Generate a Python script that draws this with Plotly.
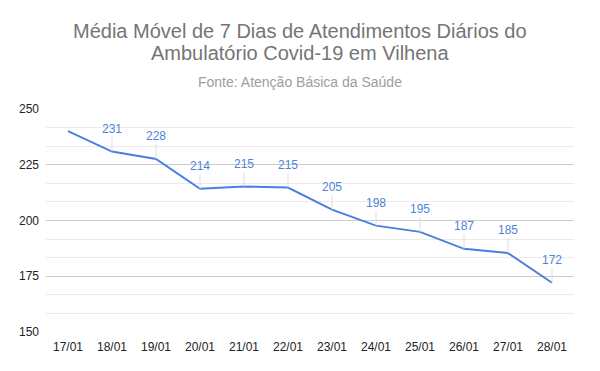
import plotly.graph_objects as go

dates = ["17/01", "18/01", "19/01", "20/01", "21/01", "22/01",
         "23/01", "24/01", "25/01", "26/01", "27/01", "28/01"]
media_movel = [240.1, 230.9, 227.6, 214.2, 215.2, 214.8,
               204.9, 197.7, 194.9, 187.3, 185.4, 172.1]
label_shown = [False] + [True] * 11

title_lines = ["Média Móvel de 7 Dias de Atendimentos Diários do",
               "Ambulatório Covid-19 em Vilhena"]
subtitle = "Fonte: Atenção Básica da Saúde"

line_color = "#4a7fdd"
label_color = "#4f82d9"
FONT = "Arial, 'Liberation Sans', sans-serif"

fig = go.Figure()
fig.add_trace(go.Scatter(
    x=dates, y=media_movel, mode="lines",
    line=dict(color=line_color, width=2),
    hoverinfo="x+y", showlegend=False,
))

annotations = []
for d, v, show in zip(dates, media_movel, label_shown):
    if not show:
        continue
    annotations.append(dict(
        x=d, y=v, xref="x", yref="y",
        text=f"{v:.0f}", showarrow=True, arrowhead=0, arrowwidth=1,
        arrowcolor="#dddddd", ax=0, ay=-23, standoff=0,
        font=dict(family=FONT, size=12, color=label_color),
    ))

def paper_y(ref_px):
    # plot area spans reference pixels 109 (top) .. 332 (bottom)
    return (332 - ref_px) / 223

center_x = (300 - 46) / 528  # centre of the whole chart in paper units

for txt, ypx in zip(title_lines, [31, 53]):
    annotations.append(dict(
        text=txt, xref="paper", yref="paper", x=center_x, y=paper_y(ypx),
        xanchor="center", yanchor="middle", showarrow=False,
        font=dict(family=FONT, size=20, color="#757575"),
    ))
annotations.append(dict(
    text=subtitle, xref="paper", yref="paper", x=center_x, y=paper_y(82),
    xanchor="center", yanchor="middle", showarrow=False,
    font=dict(family=FONT, size=14, color="#9e9e9e"),
))

# page body has an 8px margin, so the figure is drawn 8px smaller and offset
fig.update_layout(
    width=592, height=363,
    margin=dict(l=38, r=26, t=101, b=39),
    paper_bgcolor="white", plot_bgcolor="white",
    annotations=annotations,
    xaxis=dict(
        type="category", range=[-0.5, len(dates) - 0.5],
        showgrid=False, zeroline=False, showline=False,
        tickfont=dict(family=FONT, size=12, color="#222222"),
        ticks="", ticklabelstandoff=6,
    ),
    yaxis=dict(
        range=[150, 250], tick0=150, dtick=25, showgrid=True, gridcolor="#cccccc",
        gridwidth=1, zeroline=False, showline=False, ticks="", ticklabelstandoff=6,
        tickfont=dict(family=FONT, size=12, color="#222222"),
        minor=dict(dtick=25 / 3, tick0=150, showgrid=True, gridcolor="#ebebeb", gridwidth=1),
    ),
)

fig.write_html("out.html")
